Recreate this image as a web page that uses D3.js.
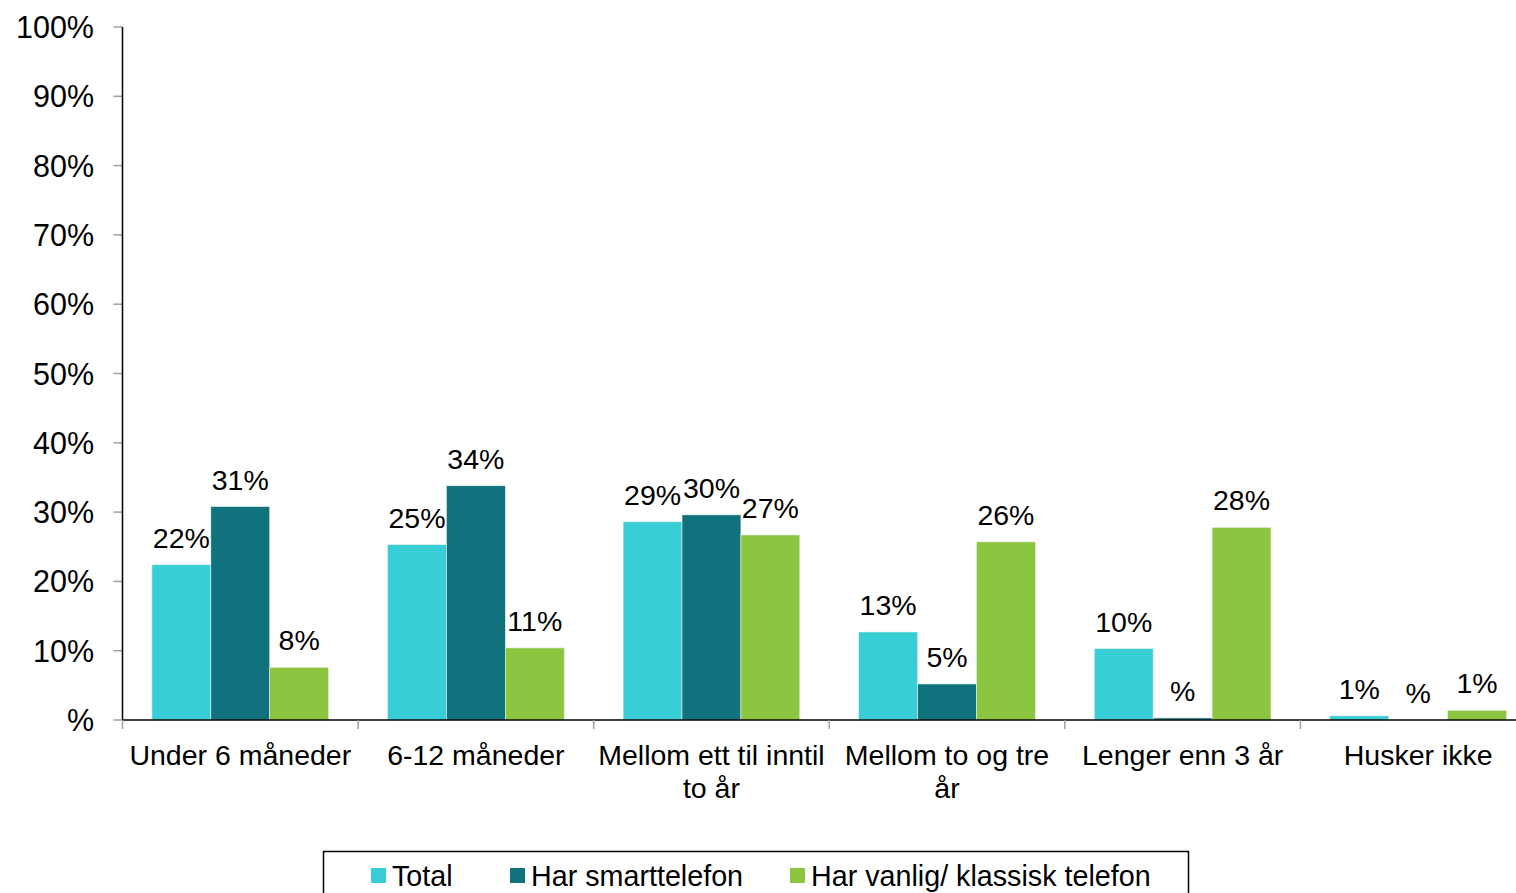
<!DOCTYPE html>
<html>
<head>
<meta charset="utf-8">
<script src="https://cdn.jsdelivr.net/npm/d3@7"></script>
<style>
  body { margin: 0; background: #fff; overflow: hidden; }
  svg { display: block; font-family: "Liberation Sans", Arial, sans-serif; }
</style>
</head>
<body>
<svg width="1516" height="893"></svg>
<script>
var categories = ["Under 6 måneder", "6-12 måneder", "Mellom ett til inntil to år", "Mellom to og tre år", "Lenger enn 3 år", "Husker ikke"];
var categoryLines = [["Under 6 måneder"], ["6-12 måneder"], ["Mellom ett til inntil", "to år"], ["Mellom to og tre", "år"], ["Lenger enn 3 år"], ["Husker ikke"]];
var seriesNames = ["Total", "Har smarttelefon", "Har vanlig/ klassisk telefon"];
var colors = ["#38CED6", "#0F727C", "#8CC540"];

var total = [22.4, 25.3, 28.6, 12.7, 10.3, 0.6];
var smart = [30.8, 33.8, 29.6, 5.2, 0.3, 0.0];
var vanlig = [7.6, 10.4, 26.7, 25.7, 27.8, 1.4];

var totalLabels = ["22%", "25%", "29%", "13%", "10%", "1%"];
var smartLabels = ["31%", "34%", "30%", "5%", "%", "%"];
var vanligLabels = ["8%", "11%", "27%", "26%", "28%", "1%"];

var yTicks = [0, 10, 20, 30, 40, 50, 60, 70, 80, 90, 100];
var yTickLabels = ["%", "10%", "20%", "30%", "40%", "50%", "60%", "70%", "80%", "90%", "100%"];

var series = [total, smart, vanlig];
var seriesLabels = [totalLabels, smartLabels, vanligLabels];

var svg = d3.select("svg");
var plotLeft = 122.5, plotRight = 1536, plotTop = 27, plotBottom = 720;

var x = d3.scaleBand().domain(categories).range([plotLeft, plotRight]).paddingInner(0).paddingOuter(0);
var x1 = d3.scaleBand().domain(d3.range(3)).range([0, x.bandwidth()]).paddingInner(0).paddingOuter(0.5);
var y = d3.scaleLinear().domain([0, 100]).range([plotBottom, plotTop]);

// y axis
var yg = svg.append("g");
yg.selectAll("line.tick").data(yTicks).enter().append("line")
  .attr("x1", plotLeft - 9).attr("x2", plotLeft)
  .attr("y1", function(d) { return y(d); }).attr("y2", function(d) { return y(d); })
  .attr("stroke", "#a0a0a0").attr("stroke-width", 1.5);
yg.selectAll("text").data(yTicks).enter().append("text")
  .attr("x", 94).attr("y", function(d) { return y(d) + 11; })
  .attr("text-anchor", "end").attr("font-size", 30.5).attr("fill", "#000")
  .text(function(d, i) { return yTickLabels[i]; });
yg.append("line").attr("x1", plotLeft).attr("x2", plotLeft).attr("y1", plotTop).attr("y2", plotBottom)
  .attr("stroke", "#000").attr("stroke-width", 1.5);

// bars
var groups = svg.append("g").selectAll("g").data(categories).enter().append("g")
  .attr("transform", function(d) { return "translate(" + x(d) + ",0)"; });

groups.each(function(cat, ci) {
  var g = d3.select(this);
  series.forEach(function(s, si) {
    var v = s[ci];
    g.append("rect")
      .attr("x", x1(si)).attr("width", x1.bandwidth())
      .attr("y", y(v)).attr("height", plotBottom - y(v))
      .attr("fill", colors[si])
      .attr("stroke", "#e8f0e8").attr("stroke-width", v > 0 ? 0.6 : 0);
    g.append("text")
      .attr("x", x1(si) + x1.bandwidth() / 2)
      .attr("y", y(v) - 17)
      .attr("text-anchor", "middle").attr("font-size", 28.5).attr("fill", "#000")
      .text(seriesLabels[si][ci]);
  });
});

// x axis
svg.append("line").attr("x1", plotLeft).attr("x2", plotRight).attr("y1", plotBottom).attr("y2", plotBottom)
  .attr("stroke", "#000").attr("stroke-width", 1.5);
var xTicks = categories.map(function(c) { return x(c); });
svg.append("g").selectAll("line").data(xTicks).enter().append("line")
  .attr("x1", function(d) { return d; }).attr("x2", function(d) { return d; })
  .attr("y1", plotBottom).attr("y2", plotBottom + 9)
  .attr("stroke", "#a0a0a0").attr("stroke-width", 1.5);

var xl = svg.append("g").selectAll("text").data(categories).enter().append("text")
  .attr("text-anchor", "middle").attr("font-size", 28.5).attr("fill", "#000")
  .attr("x", function(d) { return x(d) + x.bandwidth() / 2; })
  .attr("y", 765);
xl.each(function(d, i) {
  var t = d3.select(this);
  categoryLines[i].forEach(function(line, li) {
    t.append("tspan").attr("x", x(d) + x.bandwidth() / 2).attr("dy", li === 0 ? 0 : 33).text(line);
  });
});

// legend
var legend = svg.append("g");
legend.append("rect").attr("x", 323.5).attr("y", 851.5).attr("width", 865).attr("height", 60)
  .attr("fill", "#fff").attr("stroke", "#000").attr("stroke-width", 1.5);
var legendX = [371, 510, 790];
seriesNames.forEach(function(name, i) {
  legend.append("rect").attr("x", legendX[i]).attr("y", 868).attr("width", 15).attr("height", 15)
    .attr("fill", colors[i]);
  legend.append("text").attr("x", legendX[i] + 21).attr("y", 886)
    .attr("font-size", 28.7).attr("fill", "#000")
    .text(name);
});
</script>
</body>
</html>
